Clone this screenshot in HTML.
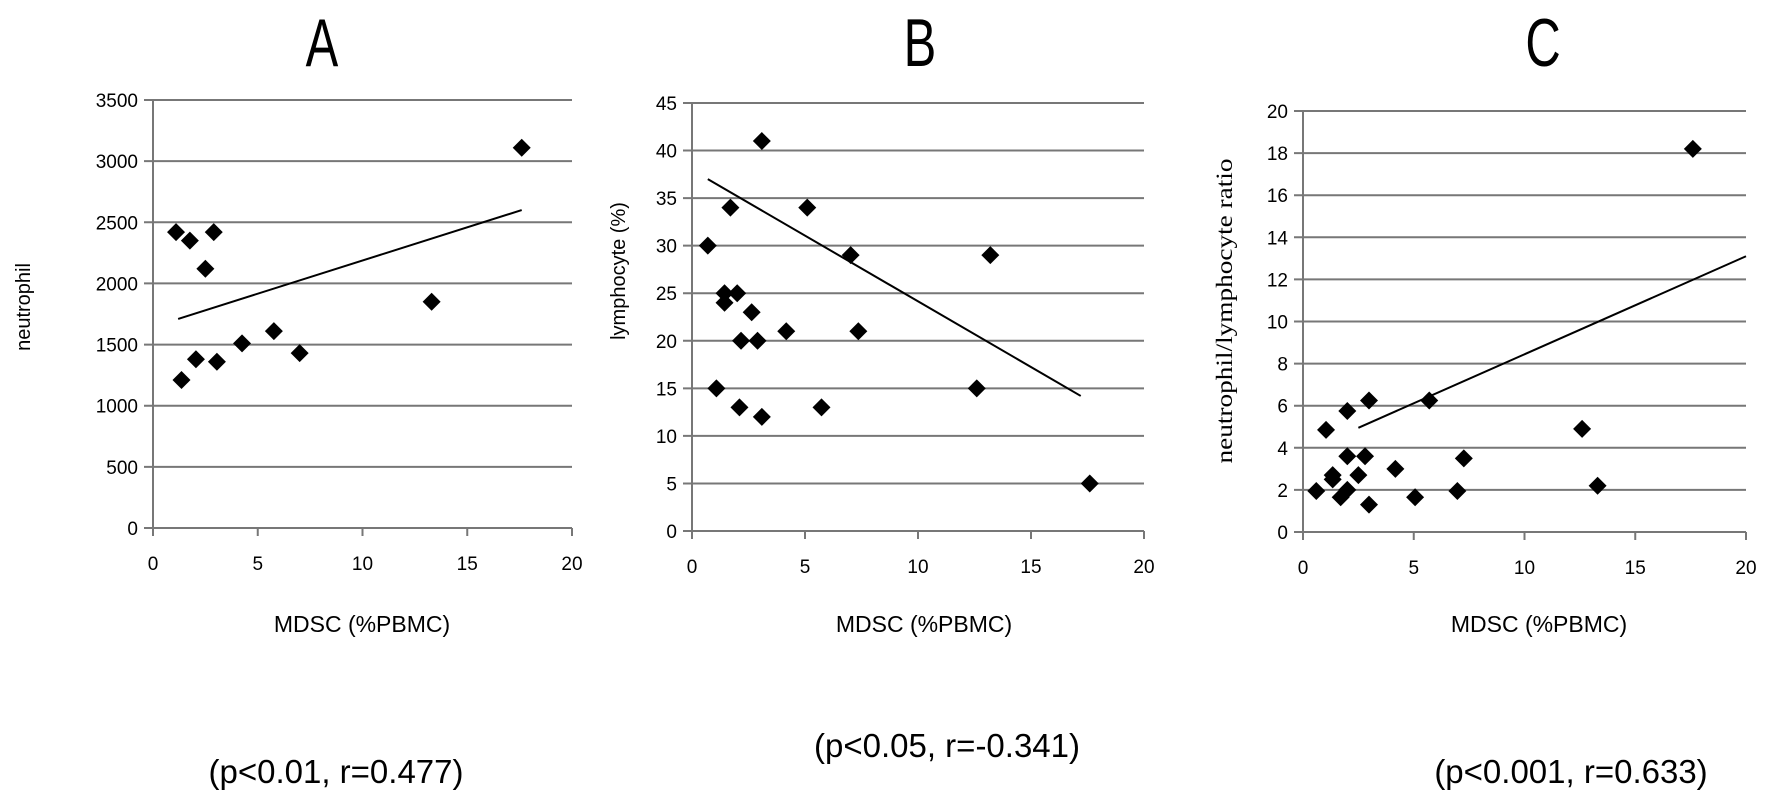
<!DOCTYPE html>
<html><head><meta charset="utf-8">
<style>
html,body{margin:0;padding:0;background:#fff;}
svg{display:block;font-family:"Liberation Sans","DejaVu Sans",sans-serif;}
</style></head>
<body>
<svg id="fig" width="1772" height="799" viewBox="0 0 1772 799" xmlns="http://www.w3.org/2000/svg"></svg>
<script>
// Panel A data
const aX = [1.1,1.76,2.5,2.9,1.36,2.05,3.05,4.25,5.77,7.0,13.3,17.6];
const aY = [2420,2350,2120,2420,1210,1380,1360,1510,1610,1430,1850,3110];
const aTrend = [[1.2,1710],[17.6,2600]];
const aYTicks = [0,500,1000,1500,2000,2500,3000,3500];
// Panel B data
const bX = [0.7,1.08,1.44,1.44,1.7,2.0,2.1,2.17,2.64,2.9,3.09,3.09,4.17,5.1,5.73,7.02,7.36,12.6,13.2,17.6];
const bY = [30,15,25,24,34,25,13,20,23,20,41,12,21,34,13,29,21,15,29,5];
const bTrend = [[0.7,37],[17.2,14.2]];
const bYTicks = [0,5,10,15,20,25,30,35,40,45];
// Panel C data
const cX = [0.6,1.04,1.34,1.34,1.7,2.0,2.0,2.0,2.5,2.8,2.98,2.98,4.17,5.06,5.7,6.97,7.26,12.6,13.3,17.6];
const cY = [1.95,4.85,2.7,2.5,1.65,2.0,5.75,3.6,2.7,3.6,6.25,1.3,3.0,1.65,6.25,1.95,3.5,4.9,2.2,18.2];
const cTrend = [[2.5,4.95],[20,13.1]];
const cYTicks = [0,2,4,6,8,10,12,14,16,18,20];
const xTicks = [0,5,10,15,20];

const NS = "http://www.w3.org/2000/svg";
const svg = document.getElementById('fig');
function mk(tag, attrs, parent){
  const e = document.createElementNS(NS, tag);
  for (const k in attrs) e.setAttribute(k, attrs[k]);
  (parent||svg).appendChild(e);
  return e;
}

const panels = [
  {key:'a', title:'A', tx:322, X:aX, Y:aY, trend:aTrend, ticks:aYTicks, ymax:3500,
   x0:153, x1:572, yTop:100, yBot:528, ylab:'neutrophil', ylx:30, yly:307, serif:false, ylen:0,
   mdscX:362, pText:'(p<0.01, r=0.477)', pX:336, pY:772},
  {key:'b', title:'B', tx:920, X:bX, Y:bY, trend:bTrend, ticks:bYTicks, ymax:45,
   x0:692, x1:1144, yTop:103, yBot:531, ylab:'lymphocyte (%)', ylx:625, yly:271, serif:false, ylen:0,
   mdscX:924, pText:'(p<0.05, r=-0.341)', pX:947, pY:746},
  {key:'c', title:'C', tx:1543, X:cX, Y:cY, trend:cTrend, ticks:cYTicks, ymax:20,
   x0:1303, x1:1746, yTop:111, yBot:532, ylab:'neutrophil/lymphocyte ratio', ylx:1232, yly:311, serif:true, ylen:305,
   mdscX:1539, pText:'(p<0.001, r=0.633)', pX:1571, pY:772}
];

panels.forEach(p => {
  const g = mk('g', {});
  
  
  const sx = v => p.x0 + (p.x1 - p.x0) * v / 20;
  const sy = v => p.yBot - (p.yBot - p.yTop) * v / p.ymax;

  const t = mk('text', {x:p.tx, y:66, 'font-size':68, 'text-anchor':'middle', fill:'#000', transform:`translate(${p.tx},0) scale(0.72,1) translate(${-p.tx},0)`}, g);
  t.textContent = p.title;
  
  

  p.ticks.forEach(v => {
    const y = sy(v);
    const l = mk('line', {x1:p.x0-9, x2:p.x1, y1:y, y2:y, stroke:'#777', 'stroke-width':2}, g);
    
    
    const tl = mk('text', {x:p.x0-15, y:y+7, 'font-size':19, 'text-anchor':'end', fill:'#000'}, g);
    tl.textContent = v;
    
    
  });
  const ax = mk('line', {x1:p.x0, x2:p.x0, y1:p.yTop, y2:p.yBot+8, stroke:'#777', 'stroke-width':2}, g);
  
  
  xTicks.forEach(v => {
    const x = sx(v);
    const tk = mk('line', {x1:x, x2:x, y1:p.yBot, y2:p.yBot+8, stroke:'#777', 'stroke-width':2}, g);
    
    
    const tl = mk('text', {x:x, y:p.yBot+42, 'font-size':19, 'text-anchor':'middle', fill:'#000'}, g);
    tl.textContent = v;
    
    
  });

  const tr = mk('line', {x1:sx(p.trend[0][0]), y1:sy(p.trend[0][1]), x2:sx(p.trend[1][0]), y2:sy(p.trend[1][1]), stroke:'#000', 'stroke-width':2}, g);
  
  

  p.X.forEach((xv, i) => {
    const cx = sx(xv), cy = sy(p.Y[i]), r = 9;
    const d = mk('polygon', {points:`${cx},${cy-r} ${cx+r},${cy} ${cx},${cy+r} ${cx-r},${cy}`, fill:'#000'}, g);
    
    
  });

  const yattrs = {x:p.ylx, y:p.yly, 'font-size':p.serif?23:20, 'text-anchor':'middle', fill:'#000',
    transform:`rotate(-90 ${p.ylx} ${p.yly})`, 'font-family': p.serif ? '"Liberation Serif", serif' : '"Liberation Sans", sans-serif'};
  if (p.ylen) { yattrs.textLength = p.ylen; yattrs.lengthAdjust = 'spacingAndGlyphs'; }
  const yl = mk('text', yattrs, g);
  yl.textContent = p.ylab;
  
  

  const xl = mk('text', {x:p.mdscX, y:632, 'font-size':23, 'text-anchor':'middle', fill:'#000'}, g);
  xl.textContent = 'MDSC (%PBMC)';
  
  

  const pt = mk('text', {x:p.pX, y:p.pY+11, 'font-size':33, 'text-anchor':'middle', fill:'#000'}, g);
  pt.textContent = p.pText;
  
  
});
</script>
</body></html>
